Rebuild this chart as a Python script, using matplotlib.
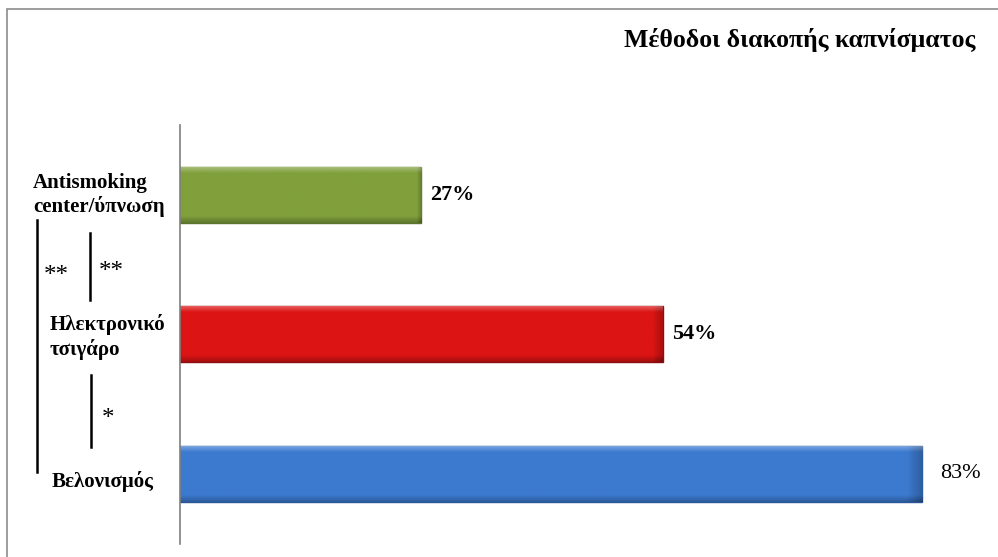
import numpy as np
import matplotlib
matplotlib.use('Agg')
import matplotlib.pyplot as plt
from matplotlib.colors import to_rgb
from matplotlib.patches import Rectangle
from matplotlib.lines import Line2D

categories = ['Antismoking\ncenter/ύπνωση', 'Ηλεκτρονικό\nτσιγάρο', 'Βελονισμός']
values = [27, 54, 83]
value_labels = ['27%', '54%', '83%']
title = 'Μέθοδοι διακοπής καπνίσματος'

colors = ['#80a03c', '#dc1414', '#3c7ad0']
edges = ['#5a752c', '#8a0e0e', '#2a569a']

W, H = 998, 557
plt.rcParams['font.family'] = ['Liberation Serif', 'DejaVu Serif']

fig = plt.figure(figsize=(W / 100, H / 100), dpi=100)
fig.patch.set_facecolor('white')


def fx(px):
    return px / W


def fy(py):
    return 1 - py / H


def bevel(base, nrow=60, ncol=300):
    # thin light rim on top, thin dark rim at the bottom and right end
    rgb = np.array(to_rgb(base))
    t = np.linspace(0, 1, nrow)[:, None]
    s = np.linspace(0, 1, ncol)[None, :]
    light = np.clip(1 - t / 0.1, 0, 1) * 0.3
    dark = np.clip((t - 0.88) / 0.12, 0, 1) * 0.25 + np.clip((s - 0.98) / 0.02, 0, 1) * 0.22
    img = rgb[None, None, :] * (1 - dark[..., None]) + (1 - rgb[None, None, :]) * light[..., None]
    return np.clip(img, 0, 1)


# outer frame
fig.patches.append(Rectangle((fx(7), fy(H + 5)), fx(W), fy(9) - fy(H + 5),
                             transform=fig.transFigure, fill=False,
                             edgecolor='#8c8c8c', linewidth=1.2))

ax = fig.add_axes([fx(180), fy(543.5), fx(993) - fx(180), fy(125) - fy(543.5)])
ypos = list(range(len(values)))
bar_h = 0.4
bars = ax.barh(ypos, values, height=bar_h, color=colors, edgecolor=edges, linewidth=1.0, zorder=2)
for b, y, v, c in zip(bars, ypos, values, colors):
    im = ax.imshow(bevel(c), extent=(0, v, y + bar_h / 2, y - bar_h / 2),
                   aspect='auto', origin='upper', zorder=2.5, interpolation='bilinear')
    im.set_clip_path(b)
ax.set_xlim(0, 813 / 8.94)
ax.set_ylim(2.5, -0.5)

for y, v, lab in zip(ypos, values, value_labels):
    big = v > 80
    ax.text(v + (2.0 if big else 1.0), y, lab, va='center', ha='left', fontsize=16,
            fontweight='normal' if big else 'bold', color='black')

for s in ['top', 'right', 'bottom']:
    ax.spines[s].set_visible(False)
ax.spines['left'].set_color('#7f7f7f')
ax.spines['left'].set_linewidth(1.2)
ax.set_xticks([])
ax.set_yticks([])

# category labels
fig.text(fx(33), fy(195), categories[0], ha='left', va='center',
         fontsize=15, fontweight='bold', linespacing=1.2)
fig.text(fx(50), fy(337), categories[1], ha='left', va='center',
         fontsize=15, fontweight='bold', linespacing=1.2)
fig.text(fx(52), fy(481), categories[2], ha='left', va='center',
         fontsize=15, fontweight='bold')

# significance brackets
for x, y0, y1 in [(37, 220, 472), (90, 233, 300), (91, 375, 447)]:
    fig.lines.append(Line2D([fx(x), fx(x)], [fy(y0), fy(y1)],
                            transform=fig.transFigure, color='black', linewidth=1.8))
fig.text(fx(56), fy(276), '**', ha='center', va='center', fontsize=18)
fig.text(fx(111), fy(272), '**', ha='center', va='center', fontsize=18)
fig.text(fx(108), fy(419), '*', ha='center', va='center', fontsize=18)

fig.text(fx(975), fy(40), title, ha='right', va='center', fontsize=18.5, fontweight='bold')

fig.savefig('out.png', dpi=100)
